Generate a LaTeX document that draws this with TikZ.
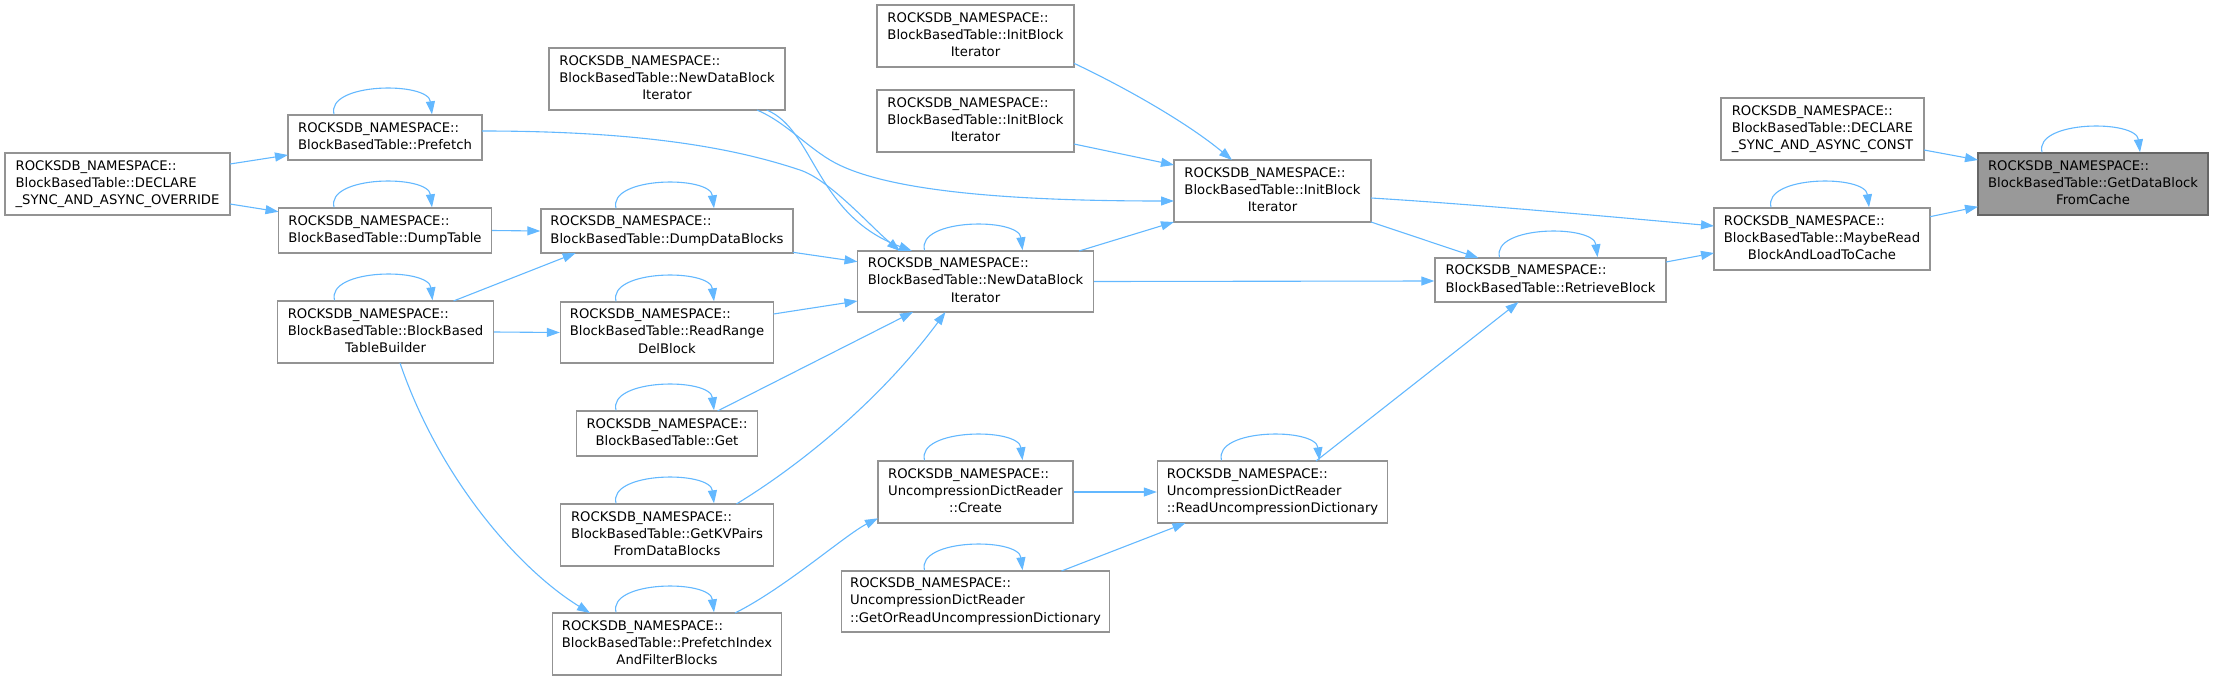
\documentclass[tikz,border=0pt]{standalone}
\usepackage{fontspec}
\setmainfont{DejaVu Sans}
\usetikzlibrary{arrows.meta,calc}
\definecolor{edgeblue}{HTML}{63B8FF}
\definecolor{nodeborder}{HTML}{939393}
\definecolor{targetfill}{HTML}{999999}
\definecolor{targetborder}{HTML}{666666}
\newcommand{\twol}[1]{\begin{tabular}{@{}l@{}}ROCKSDB\_NAMESPACE::\\\multicolumn{1}{@{}c@{}}{#1}\end{tabular}}
\newcommand{\threel}[2]{\begin{tabular}{@{}l@{}}ROCKSDB\_NAMESPACE::\\#1\\\multicolumn{1}{@{}c@{}}{#2}\end{tabular}}
\newcommand{\selfloop}[1]{\draw[call] ($(#1.north)+(-51,0)$) .. controls +(-8,-32) and +(-4,-33) .. ($(#1.north)+(47,0)$);}
\tikzset{
  fn/.style={draw=nodeborder, fill=white, line width=1.4pt, rectangle, inner sep=0pt,
    font=\fontsize{13.2}{17.3}\selectfont},
  tgt/.style={fn, draw=targetborder, fill=targetfill},
  call/.style={draw=edgeblue, line width=1.1pt, -{Triangle[length=13pt,width=9pt]}},
}
\begin{document}
\begin{tikzpicture}[x=1pt,y=-1pt]
\useasboundingbox (0,0) rectangle (2213,680);
% nodes
\node[fn,minimum width=225pt,minimum height=62pt] (declov) at (117.5,184) {\threel{BlockBasedTable::DECLARE}{\_SYNC\_AND\_ASYNC\_OVERRIDE}};
\node[fn,minimum width=194pt,minimum height=45pt] (prefetch) at (385,137.5) {\twol{BlockBasedTable::Prefetch}};
\node[fn,minimum width=213pt,minimum height=45pt] (dumptable) at (385,230.5) {\twol{BlockBasedTable::DumpTable}};
\node[fn,minimum width=216pt,minimum height=62pt] (builder) at (385.5,332) {\threel{BlockBasedTable::BlockBased}{TableBuilder}};
\node[fn,minimum width=236pt,minimum height=62pt] (ndbitop) at (667,79) {\threel{BlockBasedTable::NewDataBlock}{Iterator}};
\node[fn,minimum width=252pt,minimum height=44pt] (dumpdata) at (667,231) {\twol{BlockBasedTable::DumpDataBlocks}};
\node[fn,minimum width=213pt,minimum height=61pt] (readrange) at (667,332.5) {\threel{BlockBasedTable::ReadRange}{DelBlock}};
\node[fn,minimum width=181pt,minimum height=45pt] (get) at (667,433.5) {\twol{BlockBasedTable::Get}};
\node[fn,minimum width=213pt,minimum height=62pt] (getkv) at (667,535) {\threel{BlockBasedTable::GetKVPairs}{FromDataBlocks}};
\node[fn,minimum width=229pt,minimum height=62pt] (pifb) at (667,644) {\threel{BlockBasedTable::PrefetchIndex}{AndFilterBlocks}};
\node[fn,minimum width=197pt,minimum height=62pt] (initA) at (975.5,36) {\threel{BlockBasedTable::InitBlock}{Iterator}};
\node[fn,minimum width=197pt,minimum height=62pt] (initB) at (975.5,121) {\threel{BlockBasedTable::InitBlock}{Iterator}};
\node[fn,minimum width=236pt,minimum height=61pt] (ndbi) at (975.5,281.5) {\threel{BlockBasedTable::NewDataBlock}{Iterator}};
\node[fn,minimum width=195pt,minimum height=62pt] (create) at (975.5,492) {\threel{UncompressionDictReader}{::Create}};
\node[fn,minimum width=268pt,minimum height=61pt] (getorread) at (975.5,601.5) {\threel{UncompressionDictReader}{::GetOrReadUncompressionDictionary}};
\node[fn,minimum width=197pt,minimum height=62pt] (initmain) at (1272.5,191) {\threel{BlockBasedTable::InitBlock}{Iterator}};
\node[fn,minimum width=230pt,minimum height=62pt] (readunc) at (1272.5,492) {\threel{UncompressionDictReader}{::ReadUncompressionDictionary}};
\node[fn,minimum width=231pt,minimum height=44pt] (retrieve) at (1550.5,280) {\twol{BlockBasedTable::RetrieveBlock}};
\node[fn,minimum width=216pt,minimum height=62pt] (maybe) at (1822,239) {\threel{BlockBasedTable::MaybeRead}{BlockAndLoadToCache}};
\node[fn,minimum width=203pt,minimum height=62pt] (declconst) at (1822.5,129) {\threel{BlockBasedTable::DECLARE}{\_SYNC\_AND\_ASYNC\_CONST}};
\node[tgt,minimum width=230pt,minimum height=62pt] (target) at (2093,184) {\threel{BlockBasedTable::GetDataBlock}{FromCache}};
% self loops
\foreach \n in {prefetch,dumptable,builder,dumpdata,readrange,get,getkv,pifb,ndbi,create,getorread,readunc,retrieve,maybe,target}{\selfloop{\n}}
% edges
\draw[call] ($(declov)+(112.5,-20)$) -- ($(prefetch)+(-97,17.5)$);
\draw[call] ($(declov)+(112.5,20)$) -- ($(dumptable)+(-106.5,-18.8)$);
\draw[call] (dumptable.east) -- (dumpdata.west);
\draw[call] (builder.east) -- (readrange.west);
\draw[call] ($(builder)+(68,-31)$) -- ($(dumpdata)+(-91.3,22)$);
\draw[call] ($(builder)+(14.5,31)$) .. controls +(40,117) and +(-70,-43) .. ($(pifb)+(-77,-31)$);
\draw[call] ($(prefetch)+(97,-6.5)$) .. controls (650,131) and (740,150) .. (800,170) .. controls (830,180) and (870,226) .. ($(ndbi)+(-75.5,-30.5)$);
\draw[call] ($(ndbitop)+(99.7,31)$) .. controls +(48,20) and +(-97,-36) .. ($(ndbi)+(-63.5,-30.5)$);
\draw[call] ($(ndbitop)+(90,31)$) .. controls (785,122) and (805,145) .. (830,160) .. controls (880,190) and (1000,201) .. ($(initmain)+(-98.5,10)$);
\draw[call] ($(initA)+(98.5,27.3)$) .. controls +(57,27) and +(-42,-35) .. ($(initmain)+(-40.5,-31)$);
\draw[call] ($(initB)+(98.5,23)$) -- ($(initmain)+(-98.5,-26)$);
\draw[call] ($(ndbi)+(103.5,-30.5)$) -- ($(initmain)+(-98.5,31)$);
\draw[call] (ndbi.east) -- ($(retrieve.west)+(0,1)$);
\draw[call] ($(initmain)+(98.5,31)$) -- ($(retrieve)+(-72,-22)$);
\draw[call] ($(initmain)+(98.5,7)$) .. controls +(100,6) and +(-100,-9) .. ($(maybe)+(-108,-13)$);
\draw[call] ($(retrieve)+(115.5,-18)$) -- ($(maybe)+(-108,14)$);
\draw[call] ($(maybe)+(108,-22.3)$) -- ($(target)+(-115,22.7)$);
\draw[call] ($(declconst)+(101.5,21)$) -- ($(target)+(-115,-24)$);
\draw[call] ($(dumpdata)+(126,21.3)$) -- ($(ndbi)+(-118,-19.8)$);
\draw[call] ($(readrange)+(106.5,-18.5)$) -- ($(ndbi)+(-118,19.5)$);
\draw[call] ($(get)+(50.5,-22.5)$) -- ($(ndbi)+(-62.5,30.5)$);
\draw[call] ($(getkv)+(69.4,-31)$) .. controls +(64,-39) and +(-65,88) .. ($(ndbi)+(-30,30.5)$);
\draw[call] ($(pifb)+(68,-31)$) .. controls +(50,-25) and +(-32,16) .. ($(create)+(-97.5,26.3)$);
\draw[call] (create.east) -- (readunc.west);
\draw[call] ($(getorread)+(86,-30.5)$) -- ($(readunc)+(-87,31)$);
\draw[call] ($(readunc)+(43.5,-31)$) -- ($(retrieve)+(-32,22)$);
\end{tikzpicture}
\end{document}
